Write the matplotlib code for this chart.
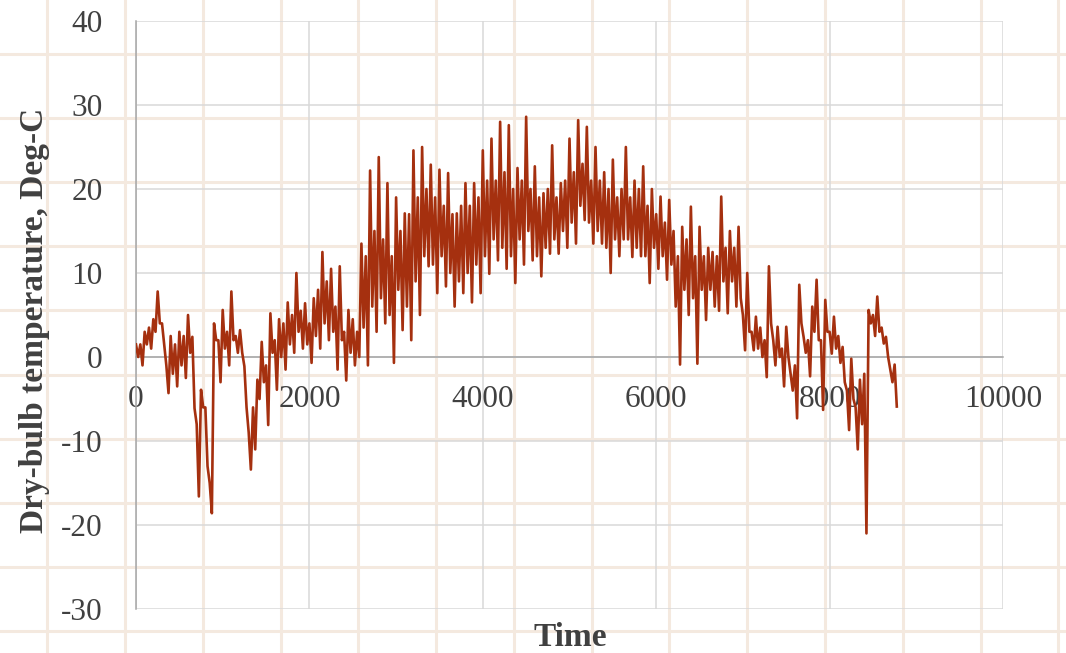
import matplotlib.pyplot as plt
import numpy as np
from matplotlib.lines import Line2D

plt.rcParams["axes.unicode_minus"] = False

# dry-bulb temperature (Deg-C): for every 50-hour slot
# the local high (at the start of the slot) and the local low (25 h later)
slot_h = 50
temp_high = [
    1.5, 1.5, 3.0, 3.5, 4.5, 7.8, 4.0, -1.0, 2.5, 1.5, 3.0, 2.5, 5.0, 2.4, -8.0, -3.9, -6.0, -15.0, 4.0, 2.0,
    5.6, 3.0, 7.8, 2.5, 3.2, -1.1, -9.0, -6.0, -2.7, 1.8, -1.0, 5.2, 2.0, 4.5, 4.0, 6.5, 5.0, 10.0, 5.5, 6.4,
    4.0, 7.0, 8.0, 12.5, 9.0, 10.5, 6.0, 10.8, 3.0, 5.6, 4.5, 3.0, 13.5, 12.0, 22.2, 15.0, 23.8, 14.0, 20.7, 12.0,
    19.0, 15.0, 17.1, 17.0, 24.6, 19.0, 25.0, 20.0, 22.9, 19.0, 22.3, 18.0, 21.9, 17.0, 17.1, 18.0, 20.7, 18.0, 20.7, 19.0,
    24.6, 21.0, 26.0, 21.0, 28.0, 22.0, 27.6, 20.0, 22.5, 21.0, 28.6, 20.0, 22.7, 19.0, 19.5, 20.0, 25.2, 19.0, 20.7, 21.0,
    26.0, 22.0, 28.2, 23.0, 27.4, 21.0, 25.0, 21.0, 22.0, 20.0, 23.5, 19.0, 20.0, 25.0, 19.0, 21.0, 20.0, 22.7, 18.0, 20.0,
    17.0, 19.1, 16.0, 18.7, 15.0, 12.0, 15.5, 14.0, 17.9, 12.0, 15.5, 12.0, 13.0, 12.5, 12.0, 19.1, 13.0, 15.0, 13.0, 15.5,
    5.0, 10.0, 3.0, 4.8, 3.5, 2.0, 10.8, 2.0, 3.6, 1.0, 3.6, -2.0, -1.0, 8.6, 2.4, 2.0, 6.0, 9.2, 2.0, 6.8,
    3.0, 4.8, 2.5, 1.2, -4.0, -0.2, -6.0, -2.7, -2.0, 5.6, 5.0, 7.2, 3.5, 2.4, -1.5, -0.9,
]
temp_low = [
    0.0, -1.0, 1.5, 1.0, 3.0, 4.0, 1.5, -4.3, -2.0, -3.5, -1.0, -2.5, 0.5, -6.1, -16.6, -6.0, -13.0, -18.6, 2.0, -3.0,
    1.0, -1.0, 2.0, 0.5, 0.5, -6.0, -13.4, -11.0, -5.0, -3.0, -8.1, 0.5, -3.9, 0.0, -1.5, 1.5, 0.5, 3.0, 1.0, 1.5,
    -0.7, 2.5, 1.0, 4.0, 2.0, 3.0, -1.5, 2.0, -2.8, 0.5, -1.0, 0.0, 3.5, -1.0, 6.0, 3.0, 7.0, 4.0, 5.0, -0.7,
    8.0, 3.2, 6.0, 2.0, 9.0, 5.0, 12.0, 10.8, 11.0, 7.6, 12.0, 8.4, 10.0, 6.0, 9.0, 7.6, 10.0, 6.5, 11.0, 7.6,
    12.0, 9.9, 14.0, 11.5, 13.0, 10.5, 12.0, 8.8, 14.0, 11.0, 15.0, 11.5, 12.0, 9.6, 13.0, 12.3, 14.0, 12.3, 15.0, 13.0,
    16.0, 13.5, 18.0, 16.3, 16.0, 13.5, 15.0, 13.5, 13.0, 10.0, 14.0, 12.0, 14.0, 14.0, 11.9, 13.0, 12.0, 12.0, 8.8, 13.0,
    10.5, 12.0, 9.2, 11.0, 6.0, -0.9, 8.0, 5.0, 7.0, -0.8, 8.0, 4.4, 8.0, 6.0, 5.5, 9.0, 5.2, 9.0, 6.0, 7.0,
    0.8, 3.0, 0.8, 1.0, 0.0, -2.4, 4.0, -1.0, 0.0, -3.5, 0.0, -4.0, -7.3, 4.0, 0.5, -2.3, 3.0, 2.0, -6.3, 3.0,
    0.4, 1.0, -0.7, -3.0, -8.7, -5.0, -11.0, -8.0, -21.0, 4.0, 2.5, 3.0, 1.6, 0.0, -3.0, -5.9,
]

# interleave high / low readings into one hourly series
slot_start = np.arange(len(temp_high)) * slot_h
hours = np.column_stack([slot_start, slot_start + slot_h / 2]).ravel()
temp = np.column_stack([temp_high, temp_low]).ravel()

x_ticks = [0, 2000, 4000, 6000, 8000, 10000]
y_ticks = [-30, -20, -10, 0, 10, 20, 30, 40]

W, H = 1066, 653
fig = plt.figure(figsize=(W / 100, H / 100), dpi=100)
fig.patch.set_facecolor("white")

# beige spreadsheet-like grid behind everything
beige = "#F4E9DF"
for px in [47, 125, 203, 281, 358, 436, 514, 592, 669, 747, 825, 903, 981, 1058]:
    fig.add_artist(Line2D([px / W, px / W], [0, 1], transform=fig.transFigure,
                          color=beige, lw=2.2, zorder=-5))
for py in [54, 118, 182, 246, 310, 375, 439, 503, 567, 631]:
    fig.add_artist(Line2D([0, 1], [1 - py / H, 1 - py / H], transform=fig.transFigure,
                          color=beige, lw=2.2, zorder=-5))

ax = fig.add_axes([136 / W, 1 - 609 / H, (1003 - 136) / W, (609 - 21) / H])
ax.patch.set_alpha(0)

ax.plot(hours, temp, color="#A5300F", lw=1.9, zorder=3)

ax.set_xlim(0, 10000)
ax.set_ylim(-30, 40)
ax.set_xticks(x_ticks)
ax.set_yticks(y_ticks)
ax.grid(True, color="#D9D9D9", lw=1.1, zorder=0)
ax.set_axisbelow(True)

for s in ["top", "right"]:
    ax.spines[s].set_visible(False)
ax.spines["bottom"].set_position(("data", 0))
ax.spines["bottom"].set_color("#A6A6A6")
ax.spines["bottom"].set_linewidth(1.1)
ax.spines["left"].set_color("#A6A6A6")
ax.spines["left"].set_linewidth(1.1)

font = "Liberation Serif"
ax.tick_params(axis="x", length=0, pad=20, labelsize=22.5, labelcolor="#404040")
ax.tick_params(axis="y", length=0, pad=24, labelsize=22.5, labelcolor="#404040")
for lab in ax.get_xticklabels() + ax.get_yticklabels():
    lab.set_fontfamily(font)

fig.text(35 / W, 1 - 320 / H, "Dry-bulb temperature, Deg-C", rotation=90,
         ha="center", va="center", fontsize=24, fontweight="bold",
         family=font, color="#404040")
fig.text(570 / W, 1 - 637 / H, "Time", ha="center", va="center",
         fontsize=24, fontweight="bold", family=font, color="#404040")

plt.savefig("out.png", dpi=100)
